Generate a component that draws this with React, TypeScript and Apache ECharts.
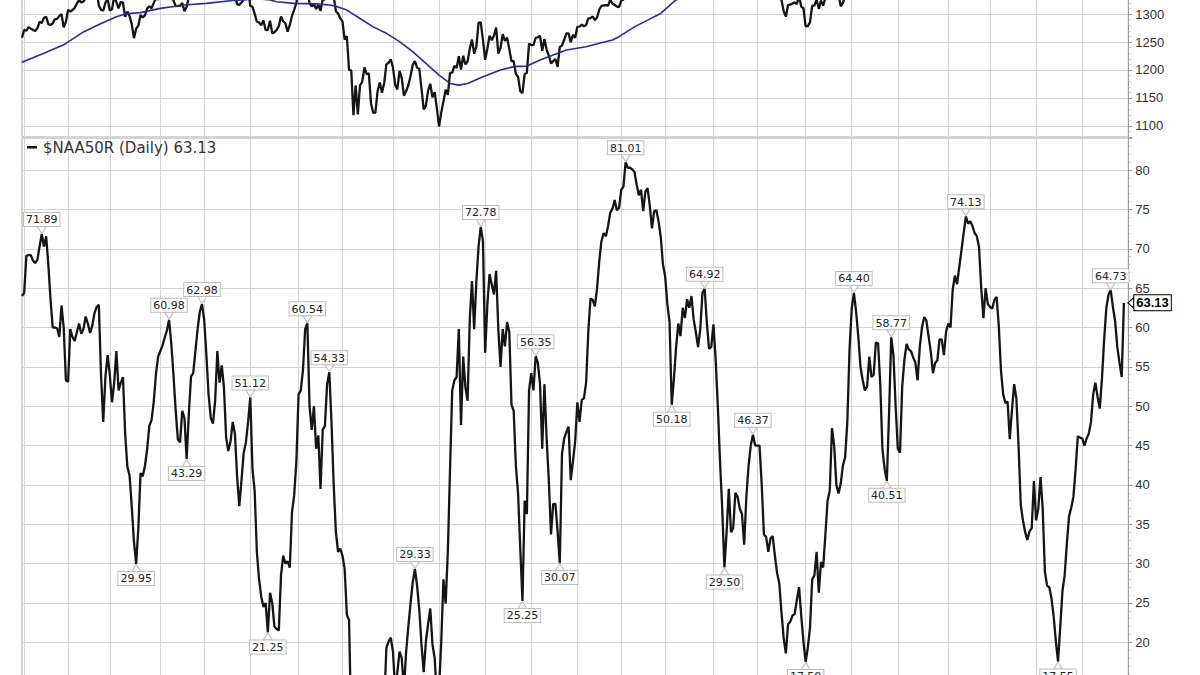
import React, { useEffect, useRef } from "react";
import * as echarts from "echarts";

// Trading sessions: index 0 = 31 Dec 2010, then Jan 2011 ... Dec 2012 (month lengths in sessions)
const monthSessions = [20, 19, 23, 20, 21, 22, 20, 23, 21, 21, 21, 21, 20, 20, 22, 20, 22, 21, 21, 23, 19, 21, 21, 20];
const extraSlots = 2; // empty room right of the last session

// $NAA50R daily closes (percent of Nasdaq stocks above 50-day MA)
const naa50r = [
  64.0, 64.4, 69.1, 69.2, 69.2, 68.5, 68.2, 68.6, 70.3, 71.89, 70.3, 71.6, 68.0, 63.5, 60.0, 60.0, 59.9, 58.8, 62.8, 60.0,
  53.3, 53.1, 59.8, 58.8, 58.3, 59.4, 60.5, 59.2, 59.8, 61.4, 60.5, 59.3, 60.2, 61.8, 62.6, 62.9, 54.0, 48.0, 53.7, 56.5,
  54.0, 50.5, 53.0, 57.0, 52.0, 53.0, 53.7, 46.5, 42.3, 41.2, 37.3, 32.8, 29.95, 34.5, 41.5, 41.1, 42.4, 44.5, 47.5, 48.2,
  50.5, 54.0, 56.3, 57.0, 57.7, 58.7, 59.6, 60.98, 58.0, 54.0, 49.5, 45.8, 45.4, 49.4, 48.5, 43.29, 49.0, 53.8, 54.2, 57.0,
  59.8, 62.0, 62.98, 61.0, 56.5, 51.5, 48.5, 47.8, 50.7, 57.0, 53.0, 55.2, 52.4, 46.0, 44.3, 45.5, 48.0, 46.5, 41.0, 37.3,
  40.6, 44.1, 45.4, 48.0, 51.12, 42.0, 39.2, 31.5, 28.0, 25.8, 24.5, 25.0, 21.25, 26.3, 25.0, 22.0, 21.7, 21.5, 28.5, 31.0,
  30.0, 30.3, 29.5, 36.5, 38.7, 43.0, 51.5, 52.0, 54.6, 59.8, 60.54, 50.0, 47.0, 50.0, 44.6, 46.3, 39.5, 47.0, 47.5, 52.8,
  54.33, 48.0, 40.0, 34.0, 31.5, 31.9, 31.0, 29.3, 23.5, 22.8, 9.0, 4.0, 8.0, 3.0, 7.0, 8.0, 12.0, 10.0, 11.0, 5.0,
  4.0, 4.5, 8.0, 10.0, 8.0, 12.0, 19.3, 20.1, 20.6, 18.8, 14.0, 16.2, 18.8, 18.0, 14.0, 18.8, 22.0, 24.9, 27.6, 29.33,
  27.2, 24.1, 19.7, 16.2, 20.1, 22.3, 24.3, 19.7, 18.0, 13.0, 14.0, 20.1, 28.0, 24.9, 31.5, 42.0, 52.0, 53.3, 53.7, 59.8,
  47.6, 56.3, 52.4, 50.7, 61.1, 65.9, 59.8, 65.9, 70.3, 72.78, 71.0, 56.8, 62.9, 66.8, 65.5, 64.2, 67.2, 59.8, 55.0, 59.8,
  57.6, 60.7, 59.4, 50.2, 49.4, 42.4, 38.9, 31.9, 25.25, 38.0, 36.3, 52.0, 54.2, 52.0, 56.35, 55.5, 52.8, 44.6, 52.8, 45.9,
  40.6, 33.7, 37.6, 37.6, 34.1, 30.07, 43.9, 45.9, 46.7, 47.4, 40.6, 43.0, 45.5, 50.5, 48.0, 50.8, 51.0, 53.0, 59.5, 63.7,
  63.5, 62.7, 65.0, 68.5, 71.0, 72.0, 71.6, 72.9, 74.6, 75.1, 76.2, 74.9, 75.2, 77.5, 77.9, 81.01, 80.3, 80.3, 80.1, 79.8,
  78.2, 76.8, 77.5, 74.8, 77.3, 77.7, 75.5, 72.6, 74.8, 74.9, 73.5, 71.5, 68.0, 66.5, 63.0, 60.7, 50.18, 53.5, 57.5, 60.5,
  58.9, 62.5, 61.2, 63.6, 62.5, 64.0, 61.0, 59.4, 57.5, 59.8, 64.4, 64.92, 60.6, 57.3, 57.5, 60.4, 56.0, 50.0, 43.0, 37.0,
  29.5, 34.0, 39.5, 34.0, 34.5, 39.0, 38.5, 37.0, 36.3, 32.4, 38.5, 42.4, 45.0, 46.37, 45.0, 45.0, 45.0, 40.0, 33.7, 33.4,
  31.5, 33.2, 33.5, 31.0, 28.8, 27.5, 23.8, 20.5, 18.6, 22.3, 22.6, 23.4, 23.6, 25.4, 27.0, 23.4, 20.1, 17.5, 19.3, 21.9,
  28.0, 28.5, 31.5, 26.3, 30.2, 29.5, 33.7, 38.0, 39.3, 47.2, 45.0, 40.0, 38.9, 40.2, 42.5, 43.5, 48.0, 57.2, 62.4, 64.4,
  62.0, 58.8, 55.0, 53.3, 52.0, 52.5, 56.3, 53.7, 54.0, 58.1, 58.0, 52.8, 44.5, 42.0, 40.51, 49.0, 58.77, 56.5, 50.0, 44.6,
  44.1, 52.5, 55.9, 57.9, 57.2, 57.0, 56.2, 55.5, 53.3, 57.5, 60.0, 61.3, 60.9, 58.9, 57.0, 54.2, 55.5, 55.8, 58.5, 58.5,
  56.5, 59.5, 60.5, 60.0, 64.8, 66.6, 65.5, 67.7, 69.8, 72.0, 74.13, 73.2, 73.5, 72.9, 72.0, 71.6, 70.2, 65.0, 61.2, 65.0,
  63.0, 62.6, 62.4, 63.5, 63.9, 60.2, 54.5, 51.5, 50.4, 50.6, 45.8, 49.5, 52.8, 51.0, 45.0, 37.5, 35.5, 34.0, 33.0, 34.1,
  34.5, 40.5, 35.5, 37.0, 41.0, 37.0, 29.0, 27.2, 27.0, 25.6, 23.3, 20.1, 17.55, 22.0, 26.5, 28.5, 32.5, 36.0, 37.1, 38.5,
  42.0, 46.2, 46.0, 45.9, 45.0, 45.9, 46.5, 48.0, 51.5, 53.0, 51.2, 49.7, 53.5, 58.5, 62.5, 64.2, 64.73, 62.6, 60.8, 57.5,
  55.5, 53.7, 63.13,
];

// S&P 500 daily closes for the price panel (one row per month)
const spx = [
  1257.6,
  1271.9, 1270.2, 1276.6, 1273.9, 1271.5, 1269.8, 1274.5, 1286.0, 1283.8, 1293.2, 1295.0, 1281.9, 1280.3, 1283.4, 1290.8, 1291.2, 1296.6, 1299.5, 1276.3, 1286.1,
  1307.6, 1304.0, 1307.1, 1310.9, 1319.1, 1324.6, 1320.9, 1321.9, 1329.2, 1332.3, 1328.0, 1336.3, 1340.4, 1343.0, 1315.4, 1307.4, 1306.1, 1319.9, 1327.2,
  1306.3, 1308.4, 1331.0, 1321.2, 1310.1, 1321.8, 1320.0, 1295.1, 1304.3, 1296.4, 1281.9, 1256.9, 1273.7, 1279.2, 1298.4, 1293.8, 1297.5, 1309.7, 1313.8, 1310.2, 1319.4, 1328.3, 1325.8,
  1332.4, 1332.9, 1332.6, 1335.5, 1333.5, 1328.2, 1324.5, 1314.2, 1314.4, 1314.5, 1319.7, 1305.1, 1312.6, 1330.4, 1337.4, 1335.3, 1347.2, 1355.7, 1360.5, 1363.6,
  1361.2, 1356.6, 1347.3, 1335.1, 1340.2, 1346.3, 1357.2, 1342.1, 1348.7, 1337.8, 1329.5, 1329.0, 1340.7, 1343.6, 1333.3, 1317.4, 1316.3, 1320.5, 1325.7, 1331.1, 1345.2,
  1314.6, 1312.9, 1300.2, 1286.2, 1284.9, 1279.6, 1289.0, 1271.0, 1271.8, 1287.9, 1265.4, 1267.6, 1271.5, 1278.4, 1295.5, 1287.1, 1283.5, 1268.5, 1280.1, 1296.7, 1307.4, 1320.6,
  1339.7, 1337.9, 1339.2, 1353.2, 1343.8, 1319.5, 1313.6, 1317.7, 1308.9, 1316.1, 1305.4, 1326.7, 1325.8, 1343.8, 1345.0, 1337.4, 1331.9, 1304.9, 1300.7, 1292.3,
  1286.9, 1254.1, 1260.3, 1200.1, 1199.4, 1119.5, 1172.5, 1120.8, 1172.6, 1178.8, 1204.5, 1192.8, 1193.9, 1140.7, 1123.5, 1123.8, 1162.4, 1177.6, 1159.3, 1176.8, 1210.1, 1212.9, 1218.9,
  1204.4, 1174.0, 1165.2, 1198.6, 1185.9, 1154.2, 1162.3, 1172.9, 1188.7, 1209.1, 1216.0, 1204.1, 1202.1, 1166.8, 1129.6, 1136.4, 1163.0, 1175.4, 1151.1, 1160.4, 1131.4,
  1099.2, 1124.0, 1144.0, 1165.0, 1155.5, 1194.9, 1195.5, 1207.3, 1203.7, 1224.6, 1200.9, 1225.4, 1209.9, 1215.4, 1238.3, 1254.2, 1229.0, 1242.0, 1284.6, 1285.1, 1253.3,
  1218.3, 1237.9, 1261.2, 1253.2, 1261.1, 1275.9, 1229.1, 1239.7, 1263.9, 1251.8, 1257.8, 1236.9, 1216.1, 1215.7, 1193.0, 1188.0, 1161.8, 1158.7, 1192.6, 1195.2, 1247.0,
  1244.6, 1244.3, 1257.1, 1258.5, 1261.0, 1234.4, 1255.2, 1236.5, 1225.7, 1211.8, 1215.8, 1219.7, 1205.4, 1241.3, 1243.7, 1254.0, 1265.3, 1265.4, 1249.6, 1263.0, 1257.6,
  1277.1, 1277.3, 1281.1, 1277.8, 1280.7, 1292.1, 1292.5, 1295.5, 1289.1, 1293.7, 1308.0, 1314.5, 1315.4, 1316.0, 1314.7, 1326.1, 1318.4, 1316.3, 1313.0, 1312.4,
  1324.1, 1325.5, 1344.9, 1344.3, 1347.1, 1350.0, 1352.0, 1342.6, 1351.8, 1350.5, 1343.2, 1358.0, 1361.2, 1362.2, 1357.7, 1363.5, 1372.2, 1365.7, 1372.2, 1365.7,
  1374.1, 1369.6, 1364.3, 1343.4, 1352.6, 1366.0, 1370.9, 1371.1, 1396.0, 1394.3, 1402.6, 1404.2, 1409.8, 1405.5, 1402.9, 1416.5, 1412.5, 1405.5, 1403.3, 1397.9, 1392.8, 1408.5,
  1419.0, 1413.4, 1399.0, 1398.1, 1382.2, 1358.6, 1368.7, 1387.6, 1370.3, 1369.6, 1390.8, 1385.1, 1376.9, 1378.5, 1366.9, 1372.0, 1390.7, 1400.0, 1403.4, 1397.9,
  1405.8, 1402.3, 1391.6, 1369.1, 1369.6, 1363.7, 1354.6, 1358.0, 1353.4, 1338.4, 1330.7, 1324.8, 1304.9, 1295.2, 1316.0, 1316.6, 1318.9, 1320.7, 1317.8, 1332.4, 1313.3, 1310.3,
  1278.0, 1278.2, 1285.5, 1315.1, 1315.0, 1325.7, 1308.9, 1324.2, 1314.9, 1329.1, 1342.8, 1344.8, 1358.0, 1355.7, 1325.5, 1335.0, 1313.7, 1320.0, 1331.9, 1329.0, 1362.2,
  1365.5, 1374.0, 1367.6, 1354.7, 1352.5, 1341.5, 1341.1, 1341.5, 1329.9, 1356.8, 1353.6, 1363.7, 1372.8, 1376.5, 1362.7, 1350.5, 1338.3, 1337.9, 1360.0, 1386.0, 1379.3,
  1375.3, 1365.0, 1391.0, 1394.2, 1401.4, 1402.2, 1402.8, 1405.9, 1404.1, 1403.9, 1405.5, 1415.5, 1418.2, 1418.1, 1413.2, 1413.5, 1402.1, 1411.1, 1410.4, 1409.3, 1410.5, 1399.5, 1406.6,
  1404.9, 1403.4, 1432.1, 1437.9, 1429.1, 1433.6, 1436.6, 1460.0, 1465.8, 1461.2, 1459.3, 1461.1, 1460.3, 1456.9, 1441.6, 1433.3, 1447.2, 1437.9, 1440.7,
  1444.5, 1445.8, 1451.0, 1461.4, 1460.9, 1455.9, 1441.5, 1432.6, 1432.8, 1428.6, 1440.1, 1454.9, 1460.9, 1457.3, 1433.2, 1433.8, 1413.1, 1408.8, 1413.0, 1411.9, 1412.2,
  1427.6, 1414.2, 1417.3, 1428.4, 1394.5, 1377.5, 1379.9, 1380.0, 1374.5, 1355.5, 1353.3, 1359.9, 1386.9, 1387.8, 1391.0, 1409.2, 1406.3, 1398.9, 1409.9, 1416.0, 1416.2,
  1409.5, 1407.1, 1409.3, 1413.9, 1418.1, 1418.6, 1427.8, 1428.5, 1419.5, 1413.6, 1430.4, 1446.8, 1443.7, 1455.3, 1430.2, 1426.7, 1419.8, 1418.1, 1402.4, 1426.2,
];

// 200-day moving average of the price, read at [session index, value]
const spxMa200 = [
  [0, 1214], [10, 1230], [19, 1245], [28, 1268], [36, 1283], [43, 1295], [48, 1301], [54, 1302.5], [63, 1310],
  [74, 1316], [84, 1319], [96, 1324], [102, 1325.5], [108, 1327], [113, 1325], [116, 1322], [124, 1319], [134, 1318],
  [140, 1316], [143, 1314], [148, 1307], [154, 1292], [160, 1277], [166, 1265.5], [172, 1250.6], [178, 1232.7],
  [184, 1212], [190, 1191], [195, 1176], [199, 1173], [203, 1176], [210, 1188], [218, 1200], [224, 1206], [230, 1207],
  [236, 1218], [242, 1227], [248, 1235.7], [257, 1241.6], [263, 1247.6], [269, 1253.6], [272, 1259.5], [279, 1277],
  [285, 1289], [291, 1301], [297, 1322], [298, 1325], [310, 1345], [340, 1365], [380, 1375], [430, 1385], [470, 1392], [502, 1398],
];

// sessions that carry a value label
const peakSessions = [9, 67, 82, 104, 130, 140, 179, 209, 234, 275, 311, 333, 379, 396, 430, 496];
const troughSessions = [52, 75, 112, 228, 245, 296, 320, 357, 394, 472];

// tick labels that fall inside the visible window
const priceTickRange = [1100, 1300];
const breadthTickRange = [20, 80];

const legendText = "$NAA50R (Daily) 63.13";

const OFFSET = 130; // part of the chart that lies above the visible window

export default function App() {
  const ref = useRef<HTMLDivElement>(null);

  useEffect(() => {
    document.body.style.margin = "0";
    const chart = echarts.init(ref.current!, null, { renderer: "svg" });

    const monthStarts = new Set<number>();
    let s = 1;
    monthSessions.forEach((n) => {
      monthStarts.add(s);
      s += n;
    });
    const total = naa50r.length + extraSlots;
    const categories = Array.from({ length: total }, (_, i) => String(i));

    const gridColor = "#d3d3d3";
    const left = 22;
    const right = 71.7;

    const xAxisBase = {
      type: "category",
      data: categories,
      boundaryGap: false,
      axisLine: { show: false },
      axisTick: { show: false },
      axisLabel: { show: false },
      splitLine: {
        show: true,
        interval: (idx: number) => monthStarts.has(idx),
        lineStyle: { color: gridColor, width: 1 },
      },
    };

    const yAxisBase = (gridIndex: number, min: number, max: number, step: number, range: number[]) => ({
      type: "value",
      gridIndex,
      position: "right",
      min,
      max,
      minInterval: step,
      maxInterval: step,
      axisLine: { show: true, lineStyle: { color: "#9a9a9a", width: 1 } },
      axisTick: { show: true, length: 4, lineStyle: { color: "#9a9a9a" } },
      minorTick: { show: true, splitNumber: 5, length: 2, lineStyle: { color: "#b5b5b5" } },
      axisLabel: {
        showMinLabel: false,
        showMaxLabel: false,
        margin: 7,
        color: "#333",
        fontFamily: "Liberation Sans",
        fontSize: 13,
        formatter: (v: number) => {
          const onStep = Math.abs(v / step - Math.round(v / step)) < 1e-6;
          return onStep && v >= range[0] && v <= range[1] ? String(v) : "";
        },
      },
      splitLine: { show: true, lineStyle: { color: gridColor, width: 1 } },
    });

    const labelBox = {
      show: true,
      distance: 0,
      fontFamily: "DejaVu Sans",
      fontSize: 11,
      lineHeight: 12,
      color: "#222",
      backgroundColor: "#ffffff",
      borderColor: "#bdbdbd",
      borderWidth: 1,
      padding: [1, 2, 0, 2],
      formatter: (p: any) => Number(p.value).toFixed(2),
    };

    const marks: any[] = [];
    peakSessions.forEach((i) => {
      marks.push({
        coord: [i, naa50r[i]],
        value: naa50r[i],
        symbol: "path://M0,0L10,0L5,7Z",
        symbolSize: [9, 7],
        symbolOffset: [0, -4],
        itemStyle: { color: "#fff", borderColor: "#bdbdbd", borderWidth: 1 },
        label: { ...labelBox, position: "top" },
      });
    });
    troughSessions.forEach((i) => {
      marks.push({
        coord: [i, naa50r[i]],
        value: naa50r[i],
        symbol: "path://M5,0L10,7L0,7Z",
        symbolSize: [9, 7],
        symbolOffset: [0, 4],
        itemStyle: { color: "#fff", borderColor: "#bdbdbd", borderWidth: 1 },
        label: { ...labelBox, position: "bottom" },
      });
    });
    const last = naa50r.length - 1;
    marks.push({
      coord: [last, naa50r[last]],
      value: naa50r[last],
      symbol: "path://M0,5L8,0L8,10Z",
      symbolSize: [6, 11],
      symbolOffset: [7, 0],
      itemStyle: { color: "#fff", borderColor: "#000", borderWidth: 1 },
      label: {
        show: true,
        position: "right",
        distance: 0,
        fontFamily: "Liberation Sans",
        fontWeight: "bold",
        fontSize: 13,
        lineHeight: 14,
        color: "#000",
        backgroundColor: "#fff",
        borderColor: "#000",
        borderWidth: 1,
        padding: [1, 2, 0, 2],
        formatter: (p: any) => Number(p.value).toFixed(2),
      },
    });

    const option: any = {
      animation: false,
      backgroundColor: "#ffffff",
      textStyle: { fontFamily: "Liberation Sans" },
      grid: [
        { left, right, top: OFFSET - 98, height: 235, show: true, borderColor: "#a8a8a8", borderWidth: 1 },
        { left, right, top: OFFSET + 138, height: 661.7, show: true, borderColor: "#a8a8a8", borderWidth: 1 },
      ],
      xAxis: [
        { ...xAxisBase, gridIndex: 0 },
        { ...xAxisBase, gridIndex: 1 },
      ],
      yAxis: [
        yAxisBase(0, 1080.357, 1500, 50, priceTickRange),
        yAxisBase(1, 0, 84.08, 5, breadthTickRange),
      ],
      series: [
        {
          name: "S&P 500",
          type: "line",
          xAxisIndex: 0,
          yAxisIndex: 0,
          data: spx,
          symbol: "none",
          lineStyle: { color: "#151515", width: 2.3 },
          z: 3,
        },
        {
          name: "MA(200)",
          type: "line",
          xAxisIndex: 0,
          yAxisIndex: 0,
          data: spxMa200,
          symbol: "none",
          lineStyle: { color: "#2a2a9c", width: 1.6 },
          z: 4,
        },
        {
          name: "$NAA50R",
          type: "line",
          xAxisIndex: 1,
          yAxisIndex: 1,
          data: naa50r,
          symbol: "none",
          lineStyle: { color: "#151515", width: 2.3 },
          z: 3,
          markPoint: { data: marks, z: 10 },
        },
      ],
      graphic: [
        {
          type: "rect",
          shape: { x: 27, y: OFFSET + 146, width: 10, height: 2.5 },
          style: { fill: "#111" },
          z: 20,
        },
        {
          type: "text",
          x: 43,
          y: OFFSET + 148,
          style: {
            text: legendText,
            fontFamily: "DejaVu Sans",
            fontSize: 15,
            fill: "#333",
            verticalAlign: "middle",
          },
          z: 20,
        },
      ],
    };

    chart.setOption(option);
    return () => chart.dispose();
  }, []);

  return (
    <div style={{ position: "relative", width: 1200, height: 675, overflow: "hidden", background: "#fff" }}>
      <div ref={ref} style={{ position: "absolute", left: 0, top: -OFFSET, width: 1200, height: 940 }} />
    </div>
  );
}
